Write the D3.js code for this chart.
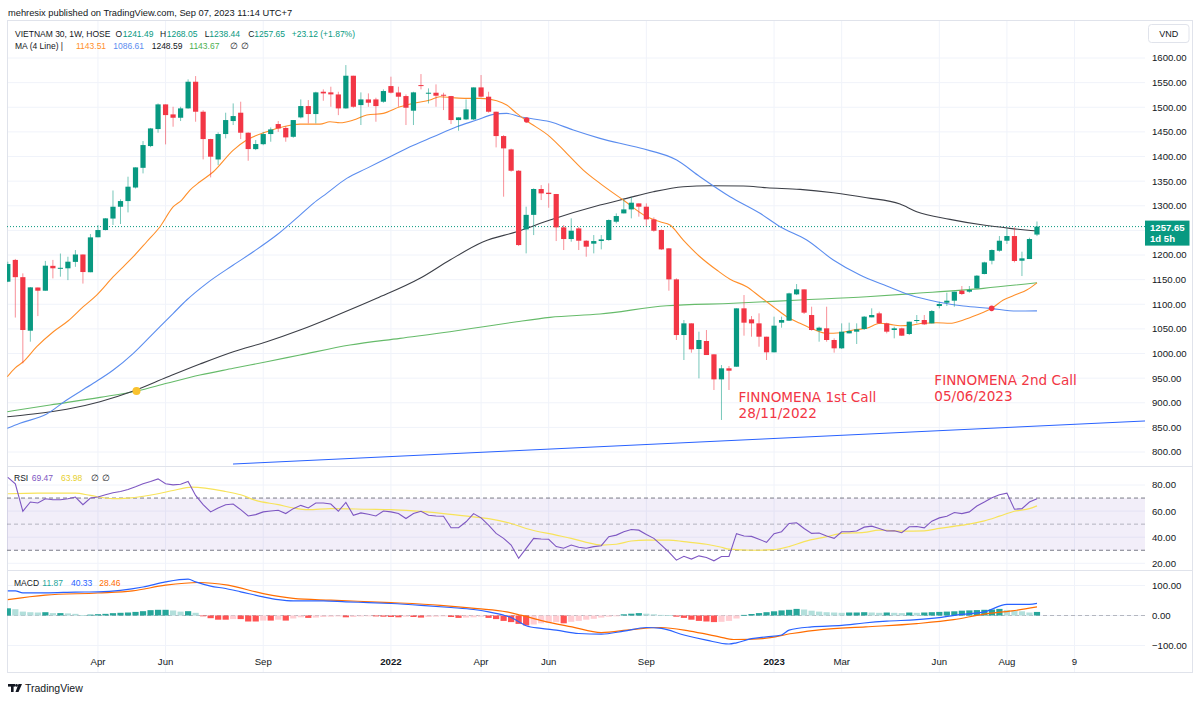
<!DOCTYPE html>
<html><head><meta charset="utf-8">
<script src="https://cdn.jsdelivr.net/npm/d3@7"></script>
<style>
body{margin:0;background:#fff;}
svg{display:block;font-family:"Liberation Sans",Arial,sans-serif;}
</style></head><body>
<svg id="c" width="1200" height="701"></svg>
<script>
// ---------- DATA (weekly bars, first visible bar = index 1) ----------
const firstBar = 1;
const opens  = [1145.8,1190,1155,1046.3,1134,1127.5,1178,1172,1173,1186,1201,1165,1236,1250.7,1274,1298,1309.5,1337,1377,1421.2,1455.7,1505.8,1485.5,1478.7,1497.7,1551.8,1490.9,1435.4,1394,1445.6,1472,1488.9,1448.3,1415,1425,1445.6,1465.9,1458,1440,1479.4,1502.4,1486.2,1531.5,1530.2,1526,1497.7,1564,1504.4,1515.9,1515.9,1511.2,1543,1530,1522.7,1493,1545,1528,1529.5,1525.4,1522.7,1474,1475.3,1475.3,1540.3,1521.4,1490.9,1441.5,1414.4,1371.1,1252,1281.5,1334,1326.5,1323.8,1256.1,1232.4,1254,1229,1223,1228.4,1230.4,1267.6,1284.5,1292.6,1304.8,1298.1,1272.3,1250.7,1213.5,1150.5,1037.5,1061.2,1009.1,1025.4,998.3,947.5,969.9,973.2,1091.7,1069.3,1061.2,1034.1,1002.4,1062.6,1066.6,1120.1,1130.2,1078.1,1046.3,1051.1,1027.4,1010.5,1040.9,1044.3,1049.7,1073.4,1081.5,1061.2,1047.7,1051.1,1039.6,1066,1068,1061.2,1096.4,1103.2,1107.2,1127.5,1125.5,1132.3,1161.4,1188.4,1208.7,1229,1238.5,1188.4,1191.8,1241.49];
const highs  = [1186.4,1192,1162.7,1135,1134,1188,1190,1203,1196.5,1210,1201,1242.6,1260.8,1275,1331,1313,1359,1378,1431.4,1458,1507.8,1506,1501,1501,1556.6,1563.3,1494,1436,1449,1488.9,1507.8,1511.2,1449,1433.4,1450,1459,1472,1461.8,1474,1515.9,1514.6,1531.5,1536.3,1541.7,1531.5,1585.6,1564,1530.2,1528.1,1519.3,1536.3,1562,1541.7,1526,1531.5,1567.4,1538.3,1546.4,1529.5,1523,1479.4,1516,1540.3,1565.4,1531.5,1491,1443.5,1416,1372.5,1298.1,1335.3,1342,1345.4,1324,1260.8,1274.4,1257,1230,1240.5,1240.5,1272.3,1284.5,1313,1317,1304.8,1304.8,1276.4,1252,1214,1152.6,1068,1061.2,1044.3,1047.7,998.3,976.6,974.6,1091.7,1118.7,1076.1,1081.5,1034.1,1074.8,1074.8,1123.5,1141,1130.2,1095,1054.5,1095,1030.8,1061.2,1062.6,1061.2,1076.1,1091.7,1084.9,1062.6,1054.5,1052.4,1064.6,1078.1,1078.1,1088.3,1105.2,1123.5,1125.5,1137,1137,1159.3,1186.4,1211.4,1238.5,1254,1256.1,1206.7,1235.1,1268.05];
const lows   = [1145,1073,980,1024,1076,1127.5,1152.5,1156,1149,1176,1142,1165,1236,1250,1261,1262.9,1286.5,1335,1365.7,1419,1448.3,1424.6,1460.5,1472,1497,1470.6,1394.1,1357.6,1382.6,1436.8,1463.9,1435.4,1391.4,1413,1423,1430,1450,1430,1438,1477.4,1467.2,1467.2,1513.2,1501,1484,1497,1499,1463.9,1501,1470.6,1509.2,1528,1501,1463.9,1463.9,1536.3,1507.8,1501,1494.3,1465.9,1452.3,1474,1474,1520,1489,1418.5,1318.4,1369.1,1218.2,1203.3,1240.5,1311.6,1296,1228.3,1210.1,1227,1210.1,1196.5,1203.3,1211.4,1229,1264.2,1284.5,1274.4,1277.8,1258.8,1247.3,1210.1,1127.5,1027.4,986.8,1001.7,949.6,996.9,925.9,865,925.9,973.2,1036.2,1034.1,1013.8,986.8,1002.4,1052.4,1066,1118.7,1080.2,1046.3,1024,1024,1001.7,1009.1,1040.9,1019.3,1047.7,1073.4,1059.9,1040.9,1030.8,1035.5,1037.5,1061.2,1057.9,1061.2,1091.7,1096.4,1095,1118.7,1123.5,1132.3,1160.7,1181,1206.7,1222.3,1185.1,1157.3,1191.8,1238.44];
const closes = [1181.7,1155,1047.7,1134.3,1127.5,1178.3,1173,1174,1186.4,1201,1165.4,1235.8,1250.7,1274.4,1298,1309.5,1338.7,1377.9,1423.2,1457,1505.8,1484.1,1478.7,1497.7,1551.8,1490.9,1435.4,1399.6,1445.6,1474,1482.1,1448.3,1415.1,1425.3,1445.6,1455,1457,1438.8,1474,1502.4,1486.2,1530.2,1528.1,1526.1,1497.7,1564,1501,1515.9,1509.2,1502.4,1532.9,1529.5,1521.4,1499,1530.2,1543,1529.5,1523.4,1524,1474,1479.4,1495.7,1540.3,1521.4,1490.9,1441.5,1416.5,1371.1,1220.2,1281.5,1334,1325.1,1323.8,1256.1,1232.4,1249.3,1229,1216.9,1228.3,1231.7,1271,1279.1,1292.6,1306.2,1298.1,1272.3,1249.3,1211.4,1150.5,1037.5,1061.2,1008.4,1027.4,996.9,947.5,969.9,965.1,1091.7,1062.6,1061.2,1034.1,1002.4,1056.5,1068,1122.1,1130.2,1082.9,1047.7,1052.4,1027.4,1010.5,1044.3,1045.7,1049,1074.8,1078.1,1061.2,1044.3,1051.1,1036.2,1064.6,1068,1059.2,1086.2,1100.5,1107.2,1125.5,1120.8,1128.9,1158,1185,1210.1,1229,1238.5,1187.8,1193.2,1232.4,1257.65];

// moving averages: [bar index, value]
const ma20 = [[0.93,952.9],[1.96,970.5],[3.06,983.3],[4.85,1013.8],[7.06,1044.2],[9.05,1066.5],[11.05,1095],[12.83,1118.7],[15.04,1155.9],[17.7,1196.5],[19.49,1226.9],[21.26,1257.4],[23.03,1298],[24.15,1311.6],[25.25,1331.9],[26.58,1348.7],[28.36,1369],[31.02,1413],[32.8,1433.4],[35.46,1450.2],[37.67,1460.4],[39.9,1465.8],[42.56,1465.8],[43.89,1470.5],[45.22,1468.5],[47,1474],[48.78,1484.1],[50.98,1487.6],[53.2,1501],[54.98,1507.9],[57.2,1514.6],[58.53,1521.3],[60.3,1519.2],[62.09,1518],[63.86,1518],[66.08,1513.1],[67.41,1504.4],[68.74,1487.6],[70.07,1472.5],[73.18,1440],[75.4,1406.4],[77.61,1372.5],[79.83,1345.5],[82.93,1311.6],[86.05,1277.7],[87.82,1267.5],[89.15,1260.8],[90.92,1230.4],[93.14,1196.5],[95.37,1169.5],[97.14,1150.6],[99.36,1135.6],[101.13,1115.3],[102.9,1095],[104.69,1074.7],[106.46,1061.3],[108.23,1049.1],[110.01,1041],[111.78,1042.2],[113.55,1047.7],[115.33,1051.1],[117.1,1061.3],[118.44,1059.2],[119.77,1056.4],[121.1,1057.2],[122.87,1061.3],[124.65,1062.5],[126.42,1061.3],[128.2,1068],[129.98,1078.1],[131.97,1091.7],[133.52,1108.6],[135.3,1120.1],[136.63,1128.9],[138,1143.51]];
const ma50 = [[0.93,848.1],[2.62,858.3],[6.18,877.1],[8.84,905.6],[12.38,939.5],[15.04,966.5],[17.71,1000.4],[20.37,1041],[23.03,1081.6],[24.81,1108.6],[27.48,1142.5],[31.02,1179.6],[33.68,1206.6],[36.79,1240.5],[39.9,1281.1],[41.67,1304.9],[43.45,1325.2],[46.11,1355.6],[48.77,1375.9],[51.88,1399.5],[54.54,1419.8],[57.64,1440.1],[60.76,1460.4],[63.42,1474],[65.63,1485.5],[67.41,1487.6],[69.18,1480.7],[73.18,1470.5],[76.28,1453.7],[79.83,1436.8],[85.16,1417.1],[90.04,1392.8],[93.14,1358.9],[97.14,1318.3],[101.13,1284.6],[103.8,1257.4],[107.35,1230.4],[110.89,1189.8],[114.44,1159.3],[118,1137],[121.1,1118.7],[124.65,1105.1],[128.2,1096.4],[131.75,1091.7],[135.3,1086.2],[138,1086.61]];
const ma100 = [[0.93,871.7],[4.39,877.1],[8.84,886.7],[13.27,902.1],[17.71,923.8],[22.15,951.6],[26.58,978.6],[31.02,1003.6],[35.46,1023.9],[39.9,1047.7],[44.33,1074.7],[50.11,1112],[55.87,1152.6],[59.86,1189.8],[64.3,1226.9],[68.74,1247.2],[73.18,1271],[79.83,1301.4],[83.39,1315],[86.93,1328.4],[90.92,1338.6],[94.48,1340.6],[98.91,1340],[102.02,1336.5],[106.46,1333.3],[110.89,1326.4],[115.33,1316.2],[119.77,1303.4],[121.99,1287.8],[126.42,1272.4],[130.86,1260.8],[134.41,1254.1],[138,1248.59]];
const ma200 = [[0.93,881.8],[6.62,895.4],[13.27,911],[18.16,923.8],[22.15,939.5],[26.58,956.3],[31.02,969.9],[35.46,983.3],[39.9,996.9],[46.55,1017.2],[53.21,1030.8],[59.86,1044.2],[64.3,1054.4],[68.74,1064.5],[73.18,1073.4],[79.83,1080.1],[88.71,1097],[97.58,1101.9],[106.46,1108.6],[115.33,1115.3],[121.99,1122.2],[130.86,1132.3],[138,1143.67]];
const crossIdx = [18.13, 70.07, 131.97];
const crossVal = [923.8, 1474, 1091.7];
const trendIdx = [30.98, 152.38];
const trendVal = [775.6, 863];

// RSI (one value per bar, index 1..138) and its moving average
const rsi = [85.9,80.9,59.9,67,66.2,69.5,68.7,68.7,69.5,70.8,64.9,70,70.8,72.5,74,75,76.6,78.6,80.9,82.7,84.7,80.9,80.1,80.6,82.7,72,64.9,59.4,62.4,64.9,65.4,61.1,56.3,57.3,59.4,60.1,60.6,58.1,61.9,64.4,62.4,66.2,66.2,65.4,59.9,66.7,56.8,58.6,57.6,56.3,60.1,59.4,58.1,54.3,58.1,59.9,56.8,56.3,56.1,47.2,47.2,51.8,58.1,54.8,49.2,42.9,39.1,34,23.9,31.5,39.1,38.6,38.4,32.8,31.5,34,32.3,31.5,32.8,33.5,40.4,41.6,44.2,45.9,45.4,42.1,39.1,34,28.5,22.4,25.4,23.2,25.7,24.4,21.9,25.2,25.2,42.7,40.9,40.6,38.4,36.1,42.7,44.2,50.5,51.1,46.7,42.9,43.2,40.9,39.1,44.2,44.2,44.7,47.7,48.5,46.7,44.7,44.9,43.4,48,48.2,47.2,52.3,54.8,56.1,58.9,58.1,59.4,63.9,67,70.3,72.5,73.8,61.4,61.9,67,69.47];
const rsiMa = [[1,73.3],[5,73.8],[10,73.8],[12,72],[15,69.5],[17,70],[21,73.3],[23,75.8],[25.5,78.4],[30,75],[32,72.5],[34,68.2],[37,64.9],[39,62.4],[41,61.1],[44,61.9],[49,61.4],[52,61.1],[55,60.1],[59,58.1],[63,55.6],[65,54.3],[68,50.5],[70,46.7],[74,41.6],[76,39.1],[78,36.1],[80,34],[82,34.6],[84,37.1],[86,37.8],[89,37.8],[91,36.6],[94,34.6],[96,32.3],[97,30.8],[100,30],[103,30.5],[105,32.8],[107,36.6],[110,40.4],[112,42.9],[115,43.7],[117,45.4],[120,44.7],[123,44.9],[125,46.7],[128,49.2],[131,52.5],[133,56.1],[135,59.9],[137,61.9],[138,63.98]];

// MACD
const macdLine = [[1,82],[2,82],[3,75.5],[6,75.5],[10,78],[13,79],[16,84],[19,95],[22,112],[25,121],[26,112],[28,98],[30,90],[32,79],[35,62],[37,53],[39,49],[43,49],[46,45.5],[49,43],[52,40],[56,34],[60,26.6],[63,20],[65,12],[67,1],[68,-6.7],[70,-34],[72,-43],[74,-49],[77,-60],[80,-62],[83,-52],[86,-40],[88,-43],[91,-65],[94,-82],[97,-95],[98,-91],[100,-77],[102,-71],[104,-65],[105,-49],[108,-38],[112,-33],[115,-25],[118,-19],[122,-14],[125,-7],[128,4],[131,12],[134,37],[137,37],[138,40.33]];
const signalLine = [[1,53],[6,68],[13,75],[17.6,82],[22,101],[26.4,110],[30.3,101],[35,73],[39,57],[44,51],[52,43],[58.6,34],[63.5,23],[67.4,12],[69.3,1],[72.2,-18],[76.1,-38],[80,-57],[84,-47],[87.9,-40],[91.8,-52],[95.7,-71],[97.6,-80],[101.5,-77],[105.4,-60],[109.3,-47],[115.2,-38],[122,-27],[126.9,-14],[130.8,4],[134.7,15.5],[138,28.46]];
const hist = [24,21,13,11,10,11,8,8,7,5.5,1,3,4.4,5.5,7.8,9,10,12,14.4,17.8,19,19,16.7,13,14.4,9,-1,-9,-14,-14,-12,-12,-20,-20,-17,-17,-14,-17,-10,
  -6,-8,-7,-5,-4,-3,-6,-5,-3,-2,-3,-4,
  -5,-6,-4,-5,-7,-5,-4,-3,-5,-8,-7,-6,-4,
  -8,-12,-18,-22,-28,-33,
  -30,-26,-24,-22,-26,-21,
  -18,-14,-11,-7,-4,-1,
  4,6,8,6,4,2,1,
  -4,-8,-14,-18,-20,-22,-21,-18,-10,
  2,5,8,11,14,17,19,22,20,
  16,13,11,10,9,
  10,10,11,10,9,10,9,8,10,9,10,11,
  12,13,14,16,17,18,19,20,22,18,16,14,
  10,11.87];

// axes
const timeTickIdx = [13,22,35,52,64,73,86,103,112,125,134,143];
const timeTickLbl = ["Apr","Jun","Sep","2022","Apr","Jun","Sep","2023","Mar","Jun","Aug","9"];
const priceTicks = [800,850,900,950,1000,1050,1100,1150,1200,1300,1350,1400,1450,1500,1550,1600];
const rsiTicks = [20,40,60,80];
const macdTicks = [-100,0,100];

// ---------- DRAW ----------
const svg = d3.select("#c");
const L = 7, R = 1145, AXR = 1193;
const P = {top:20, mid1:466, mid2:570, bot:673};
const x = d3.scaleLinear().domain([0.892,152.38]).range([L,R]);
const yP = d3.scaleLinear().domain([800,1600]).range([452,58]);
const yR = d3.scaleLinear().domain([20,80]).range([563.3,485]);
const yM = d3.scaleLinear().domain([-100,100]).range([645.5,585.5]);
const UP="#089981", DN="#f23645", GRID="#f0f3fa", BORDER="#e0e3eb", TXT="#131722";

const defs = svg.append("defs");
function clip(id,y0,y1){defs.append("clipPath").attr("id",id).append("rect").attr("x",L).attr("y",y0).attr("width",R-L).attr("height",y1-y0);}
clip("cm",P.top,P.mid1); clip("cr",P.mid1,P.mid2); clip("cd",P.mid2,652);

// grids
const g = svg.append("g");
g.selectAll(".vg").data(timeTickIdx).join("line").attr("x1",d=>x(d)).attr("x2",d=>x(d)).attr("y1",P.top).attr("y2",P.bot).attr("stroke",GRID);
g.selectAll(".hg").data(priceTicks.concat([1250])).join("line").attr("x1",L).attr("x2",R).attr("y1",d=>yP(d)).attr("y2",d=>yP(d)).attr("stroke",GRID);
g.selectAll(".rg").data(rsiTicks).join("line").attr("x1",L).attr("x2",R).attr("y1",d=>yR(d)).attr("y2",d=>yR(d)).attr("stroke",GRID);
g.selectAll(".mg").data(macdTicks).join("line").attr("x1",L).attr("x2",R).attr("y1",d=>yM(d)).attr("y2",d=>yM(d)).attr("stroke",GRID);

// frame
svg.append("rect").attr("x",L+0.5).attr("y",P.top+0.5).attr("width",AXR-L-1).attr("height",P.bot-P.top-1).attr("fill","none").attr("stroke",BORDER);
[P.mid1,P.mid2].forEach(yy=>svg.append("line").attr("x1",L).attr("x2",AXR).attr("y1",yy+0.5).attr("y2",yy+0.5).attr("stroke",BORDER));

// ---- main panel ----
const mp = svg.append("g").attr("clip-path","url(#cm)");
const lineP = d3.line().x(d=>x(d[0])).y(d=>yP(d[1])).curve(d3.curveMonotoneX);
mp.append("path").datum(trendIdx.map((d,i)=>[d,trendVal[i]])).attr("d",d3.line().x(d=>x(d[0])).y(d=>yP(d[1]))).attr("stroke","#2962ff").attr("fill","none").attr("stroke-width",1);
mp.append("line").attr("x1",L).attr("x2",R).attr("y1",yP(closes[closes.length-1])).attr("y2",yP(closes[closes.length-1])).attr("stroke",UP).attr("stroke-dasharray","1,2");
[[ma200,"#66bb6a"],[ma100,"#3c3f47"],[ma50,"#5b8def"],[ma20,"#ff8f2a"]].forEach(([d,c])=>{
  mp.append("path").datum(d).attr("d",lineP).attr("fill","none").attr("stroke",c).attr("stroke-width",1.1);
});
const bars = d3.range(opens.length).map(i=>({i:i+firstBar,o:opens[i],h:highs[i],l:lows[i],c:closes[i]}));
const cg = mp.append("g");
cg.selectAll(".w").data(bars).join("line").attr("x1",d=>x(d.i)).attr("x2",d=>x(d.i)).attr("y1",d=>yP(d.h)).attr("y2",d=>yP(d.l))
  .attr("stroke",d=>d.c>=d.o?UP:DN).attr("stroke-opacity",0.55).attr("stroke-width",1);
cg.selectAll(".b").data(bars).join("rect").attr("x",d=>x(d.i)-2.6).attr("width",5.2)
  .attr("y",d=>yP(Math.max(d.o,d.c))).attr("height",d=>Math.max(1,Math.abs(yP(d.o)-yP(d.c))))
  .attr("fill",d=>d.c>=d.o?UP:DN);
const crossCol = ["#f9c22e",DN,DN];
mp.selectAll(".cr").data(crossIdx).join("circle").attr("cx",d=>x(d)).attr("cy",(d,i)=>yP(crossVal[i])).attr("r",(d,i)=>i===0?4:2.8).attr("fill",(d,i)=>crossCol[i]);

// annotations
const ann = [{i:98,t1:"FINNOMENA 1st Call",t2:"28/11/2022",v:901,dx:2},{i:125,t1:"FINNOMENA 2nd Call",t2:"05/06/2023",v:936,dx:-5}];
ann.forEach(a=>{
  const t = svg.append("text").attr("font-family","DejaVu Sans,Verdana,sans-serif").attr("font-size",13.6).attr("fill","#f23645");
  t.append("tspan").attr("x",x(a.i)+a.dx).attr("y",yP(a.v)).text(a.t1);
  t.append("tspan").attr("x",x(a.i)+a.dx).attr("y",yP(a.v)+15.5).text(a.t2);
});

// ---- RSI panel ----
const rp = svg.append("g").attr("clip-path","url(#cr)");
rp.append("rect").attr("x",L).attr("width",R-L).attr("y",yR(70)).attr("height",yR(30)-yR(70)).attr("fill","rgba(126,87,194,0.1)");
[[70,"#787b86",1],[50,"#787b86",0.5],[30,"#787b86",1]].forEach(([v,c,o])=>rp.append("line").attr("x1",L).attr("x2",R).attr("y1",yR(v)).attr("y2",yR(v)).attr("stroke",c).attr("stroke-opacity",o).attr("stroke-dasharray","4,3"));
rp.append("path").datum(rsiMa).attr("d",d3.line().x(d=>x(d[0])).y(d=>yR(d[1])).curve(d3.curveMonotoneX)).attr("fill","none").attr("stroke","#f7e35a").attr("stroke-width",1.2);
rp.append("path").datum(rsi.map((v,i)=>[i+firstBar,v])).attr("d",d3.line().x(d=>x(d[0])).y(d=>yR(d[1]))).attr("fill","none").attr("stroke","#7e57c2").attr("stroke-width",1.1);

// ---- MACD panel ----
const dp = svg.append("g").attr("clip-path","url(#cd)");
dp.append("line").attr("x1",L).attr("x2",R).attr("y1",yM(0)).attr("y2",yM(0)).attr("stroke","#787b86").attr("stroke-opacity",0.5).attr("stroke-dasharray","4,3");
dp.selectAll(".h").data(hist).join("rect")
  .attr("x",(d,i)=>x(i+firstBar)-3.1).attr("width",6.2)
  .attr("y",d=>Math.min(yM(d),yM(0))).attr("height",d=>Math.max(0.8,Math.abs(yM(d)-yM(0))))
  .attr("fill",(d,i)=>{const p=i>0?hist[i-1]:d; return d>=0?(d>=p?"#26a69a":"#b2dfdb"):(d<=p?"#ff5252":"#ffcdd2");});
const lineM = d3.line().x(d=>x(d[0])).y(d=>yM(d[1])).curve(d3.curveMonotoneX);
dp.append("path").datum(signalLine).attr("d",lineM).attr("fill","none").attr("stroke","#ff6d00").attr("stroke-width",1.2);
dp.append("path").datum(macdLine).attr("d",lineM).attr("fill","none").attr("stroke","#2962ff").attr("stroke-width",1.2);

// ---- axes labels ----
const ax = svg.append("g").attr("font-size",9.6).attr("fill",TXT);
ax.selectAll(".pl").data(priceTicks).join("text").attr("x",1152).attr("y",d=>yP(d)+3.4).text(d=>d.toFixed(2));
ax.selectAll(".rl").data(rsiTicks).join("text").attr("x",1152).attr("y",d=>yR(d)+3.4).text(d=>d.toFixed(2));
ax.selectAll(".ml").data(macdTicks).join("text").attr("x",1152).attr("y",d=>yM(d)+3.4).text(d=>d<0?"\u2212"+Math.abs(d).toFixed(2):d.toFixed(2));
ax.selectAll(".tl").data(timeTickIdx).join("text").attr("x",d=>x(d)).attr("y",664.5).attr("text-anchor","middle")
  .attr("font-weight",(d,i)=>/^\d{4}$/.test(timeTickLbl[i])?"bold":"normal").text((d,i)=>timeTickLbl[i]);

// last price box
const lp = closes[closes.length-1];
svg.append("rect").attr("x",R).attr("y",yP(lp)-6).attr("width",44.5).attr("height",25).attr("fill",UP);
svg.append("text").attr("x",1150).attr("y",yP(lp)+4.5).attr("fill","#fff").attr("font-size",9.6).attr("font-weight","bold").text(lp.toFixed(2));
svg.append("text").attr("x",1150).attr("y",yP(lp)+15.5).attr("fill","#fff").attr("font-size",9.6).attr("font-weight","bold").text("1d 5h");
// currency box
svg.append("rect").attr("x",1148.5).attr("y",24.5).attr("width",40.5).attr("height",18).attr("rx",3).attr("fill","#fff").attr("stroke",BORDER);
svg.append("text").attr("x",1168.7).attr("y",36.8).attr("text-anchor","middle").attr("font-size",9).attr("fill",TXT).text("VND");

// ---- legends ----
function seg(y,items,fs){items.forEach(([xx,t,c])=>svg.append("text").attr("x",xx).attr("y",y).attr("font-size",fs).attr("fill",c).text(t));}
seg(16,[[8,"mehresix published on TradingView.com, Sep 07, 2023 11:14 UTC+7",TXT]],9.3);
seg(36.5,[[15,"VIETNAM 30, 1W, HOSE",TXT],[115.5,"O",TXT],[122.7,"1241.49",UP],[160,"H",TXT],[166.7,"1268.05",UP],[204.7,"L",TXT],[209.3,"1238.44",UP],[248.3,"C",TXT],[254.3,"1257.65",UP],[291.7,"+23.12 (+1.87%)",UP]],8.5);
seg(49,[[15,"MA (4 Line)  |",TXT],[76,"1143.51","#ff8f2a"],[113.3,"1086.61","#5b8def"],[151.7,"1248.59",TXT],[189.3,"1143.67","#4caf50"],[229.5,"\u2205",TXT],[241,"\u2205",TXT]],8.5);
seg(481,[[14,"RSI",TXT],[31.7,"69.47","#7e57c2"],[61,"63.98","#e6cf2e"],[91,"\u2205",TXT],[102,"\u2205",TXT]],8.5);
seg(586,[[14,"MACD",TXT],[42.3,"11.87","#26a69a"],[71,"40.33","#2962ff"],[99.3,"28.46","#ff6d00"]],8.5);

// footer logo
const lg = svg.append("g").attr("fill",TXT);
lg.append("rect").attr("x",8).attr("y",684).attr("width",7).attr("height",2.6);
lg.append("rect").attr("x",11).attr("y",684).attr("width",2.6).attr("height",8);
lg.append("circle").attr("cx",16.5).attr("cy",685.4).attr("r",1.4);
lg.append("path").attr("d","M18.5 684 L22 684 L18.5 692 L15.5 692 Z");
svg.append("text").attr("x",25).attr("y",691.5).attr("font-size",10.5).attr("fill",TXT).text("TradingView");
</script>
</body></html>
